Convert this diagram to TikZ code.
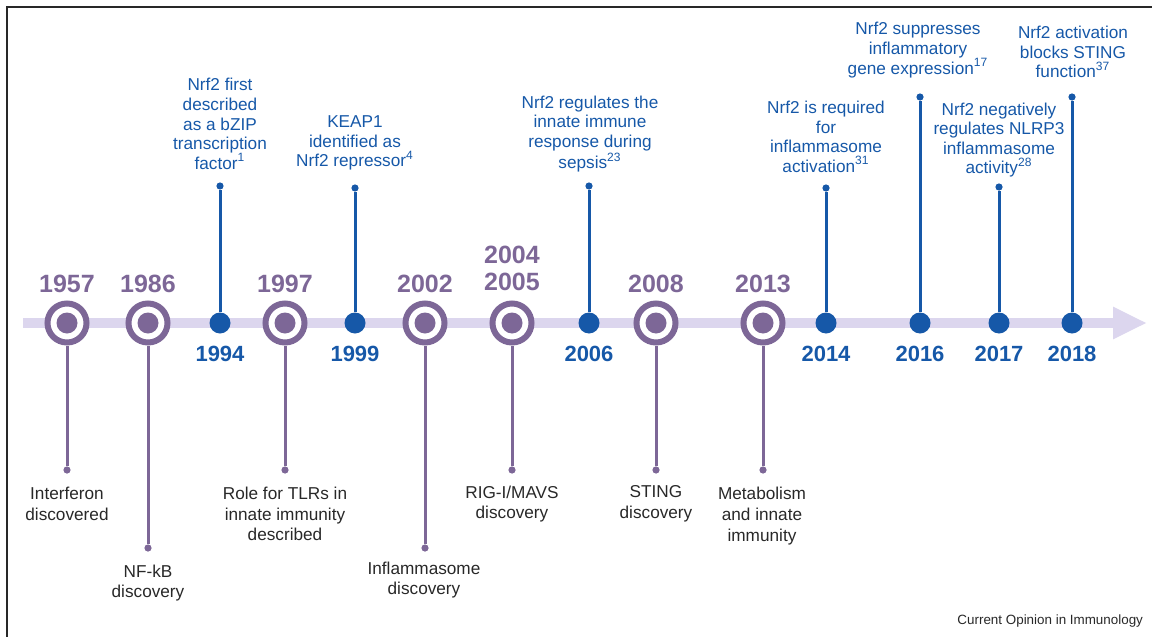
\documentclass[tikz,border=0pt]{standalone}
\usepackage{fontspec}
\setmainfont{Liberation Sans}
\usetikzlibrary{arrows.meta}
\definecolor{evpurple}{RGB}{125,103,151}
\definecolor{nrfblue}{RGB}{22,88,168}
\definecolor{barlilac}{RGB}{220,214,238}
\definecolor{txtgray}{RGB}{40,40,40}

\begin{document}
\begin{tikzpicture}[x=0.5pt,y=-0.5pt,
    ringstyle/.style={circle,draw=evpurple,line width=3pt,fill=white,minimum size=19.5pt,inner sep=0pt,
      path picture={\fill[evpurple] (path picture bounding box.center) circle (5.25pt);}},
    bluestyle/.style={circle,fill=nrfblue,minimum size=10.5pt,inner sep=0pt},
    tipstyle/.style={circle,minimum size=3.6pt,inner sep=0pt},
    stemstyle/.style={line width=1.5pt},
    yearstyle/.style={font=\bfseries\fontsize{12.5}{13.5}\selectfont},
    topnote/.style={align=center,text=nrfblue,font=\fontsize{8.6}{9.8}\selectfont},
    lownote/.style={align=center,text=txtgray,font=\fontsize{8.6}{10.3}\selectfont}]
    \useasboundingbox (0,0) rectangle (1152,637);
    \draw[line width=0.65pt,txtgray] (7,637) -- (7,7) -- (1152,7);
    \begin{scope}
	\coordinate (tlstart) at (23,323);
	\coordinate (tlend) at (1147,323);
	\draw[barlilac,line width=5pt,-{Triangle[length=17pt,width=15pt]}] (tlstart) -- (tlend);
	\foreach \yr/\x/\y in {1957/67/470,1986/148/548,1997/285/470,2002/425/548,2005/512/470,2008/656/470,2013/763/470}{
	    \node[ringstyle] (m\yr) at (\x,323) {};
	    \node[tipstyle,fill=evpurple] (e\yr) at (\x,\y) {};
	    \draw[stemstyle,evpurple] (m\yr) -- (e\yr);
	}
	\foreach \yr/\x in {1957/67,1986/148,1997/285,2002/425,2008/656,2013/763}
	    \node[yearstyle,text=evpurple] (y\yr) at (\x,284) {\yr};
	\node[yearstyle,text=evpurple,align=center] (y2005) at (512,268) {2004\\2005};
	\foreach \yr/\x/\y in {1994/220/186,1999/355/188,2006/589/186,2014/826/188,2016/920/97,2017/999/187,2018/1072/97}{
	    \node[bluestyle] (b\yr) at (\x,323) {};
	    \node[tipstyle,fill=nrfblue] (t\yr) at (\x,\y) {};
	    \draw[stemstyle,nrfblue] (b\yr) -- (t\yr);
	    \node[font=\bfseries\fontsize{11}{12}\selectfont,text=nrfblue] (by\yr) at (\x,354) {\yr};
	}
    \end{scope}
    \node[topnote] (n1994) at (220,124) {Nrf2 first\\described\\as a bZIP\\transcription\\factor\textsuperscript{1}};
    \node[topnote] (n1999) at (355,143) {KEAP1\\identified as\\Nrf2 repressor\textsuperscript{4}};
    \node[topnote] (n2006) at (590,134) {Nrf2 regulates the\\innate immune\\response during\\sepsis\textsuperscript{23}};
    \node[topnote] (n2014) at (826,137) {Nrf2 is required\\for\\inflammasome\\activation\textsuperscript{31}};
    \node[topnote] (n2016) at (918,50) {Nrf2 suppresses\\inflammatory\\gene expression\textsuperscript{17}};
    \node[topnote] (n2017) at (999,140) {Nrf2 negatively\\regulates NLRP3\\inflammasome\\activity\textsuperscript{28}};
    \node[topnote] (n2018) at (1073,52) {Nrf2 activation\\blocks STING\\function\textsuperscript{37}};
    \node[lownote] (l1957) at (67,504) {Interferon\\discovered};
    \node[lownote] (l1986) at (148,583) {NF-kB\\discovery};
    \node[lownote] (l1997) at (285,514) {Role for TLRs in\\innate immunity\\described};
    \node[lownote] (l2002) at (424,580) {Inflammasome\\discovery};
    \node[lownote] (l2005) at (512,504) {RIG-I/MAVS\\discovery};
    \node[lownote] (l2008) at (656,504) {STING\\discovery};
    \node[lownote] (l2013) at (762,516) {Metabolism\\and innate\\immunity};
    \node[anchor=east,text=txtgray,font=\fontsize{6.7}{8}\selectfont] (credit) at (1150,621) {Current Opinion in Immunology};
\end{tikzpicture}
\end{document}
